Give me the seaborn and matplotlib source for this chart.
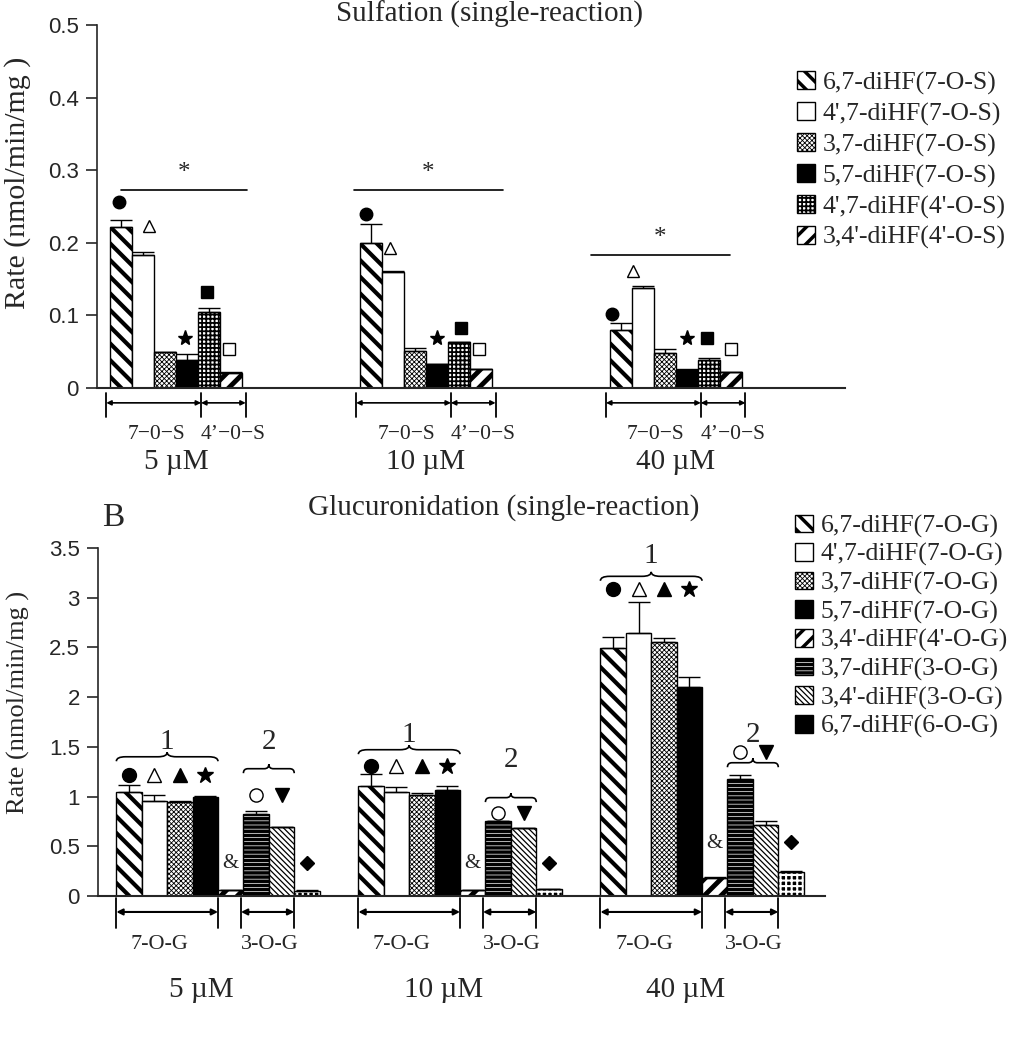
import numpy as np
import pandas as pd
import matplotlib
matplotlib.use('Agg')
import matplotlib.pyplot as plt
import matplotlib.transforms as mtransforms
import seaborn as sns
from matplotlib.patches import Patch, Rectangle, PathPatch
from matplotlib.path import Path

# ---------------- data ----------------
conc = ['5 µM', '10 µM', '40 µM']

sul_names = ['6,7-diHF(7-O-S)', "4',7-diHF(7-O-S)", '3,7-diHF(7-O-S)',
             '5,7-diHF(7-O-S)', "4',7-diHF(4'-O-S)", "3,4'-diHF(4'-O-S)"]
# rows = compound, cols = 5, 10, 40 uM
sul_rate = [[0.222, 0.200, 0.080],
            [0.183, 0.160, 0.138],
            [0.049, 0.051, 0.048],
            [0.039, 0.033, 0.025],
            [0.104, 0.064, 0.038],
            [0.021, 0.026, 0.022]]
sul_err = [[0.010, 0.026, 0.009],
           [0.004, 0.001, 0.002],
           [0.001, 0.004, 0.005],
           [0.008, 0.000, 0.001],
           [0.006, 0.000, 0.003],
           [0.001, 0.000, 0.000]]

glu_names = ['6,7-diHF(7-O-G)', "4',7-diHF(7-O-G)", '3,7-diHF(7-O-G)',
             '5,7-diHF(7-O-G)', "3,4'-diHF(4'-O-G)", '3,7-diHF(3-O-G)',
             "3,4'-diHF(3-O-G)", '6,7-diHF(6-O-G)']
glu_rate = [[1.05, 1.11, 2.49],
            [0.96, 1.05, 2.64],
            [0.95, 1.02, 2.55],
            [1.00, 1.07, 2.10],
            [0.06, 0.06, 0.18],
            [0.82, 0.75, 1.18],
            [0.69, 0.68, 0.71],
            [0.05, 0.07, 0.24]]
glu_err = [[0.07, 0.12, 0.11],
           [0.06, 0.05, 0.32],
           [0.01, 0.02, 0.04],
           [0.01, 0.04, 0.10],
           [0.00, 0.00, 0.01],
           [0.03, 0.00, 0.04],
           [0.00, 0.00, 0.04],
           [0.01, 0.00, 0.01]]

# significance symbols (sulfation): which bar, symbol, height per concentration
sul_mark_bar = [0, 1, 3, 4, 5]
sul_mark_sym = ['o', '^', '*', 's', 's']
sul_mark_fill = ['black', 'white', 'black', 'black', 'white']
sul_mark_y = [[0.256, 0.223, 0.069, 0.132, 0.053],
              [0.239, 0.193, 0.069, 0.083, 0.053],
              [0.102, 0.161, 0.069, 0.069, 0.053]]
sul_mark_dx = [[-0.1, 0.27, -0.1, -0.1, -0.1],
               [-0.23, -0.14, 0.0, 0.1, -0.1],
               [-0.4, -0.45, 0.0, -0.1, 0.0]]
sul_sig_y = [0.273, 0.273, 0.183]
sul_sig_span = [(-0.22, 0.284), (-0.288, 0.308), (-0.34, 0.216)]

# glucuronidation annotations
glu_row1_y = [1.215, 1.305, 3.092]    # filled circle, open tri, tri, star
glu_row2_y = [1.014, 0.833, 1.446]    # open circle, down tri
glu_amp_y = [0.33, 0.33, 0.532]
glu_dia_y = [0.33, 0.33, 0.54]
glu_brace1_y = [1.355, 1.426, 3.17]
glu_brace2_y = [1.235, 0.944, 1.295]
glu_lab1_y = [1.546, 1.616, 3.42]
glu_lab2_y = [1.546, 1.365, 1.616]

# ---------------- styles ----------------
sul_styles = [dict(fc='white', hatch='\\\\', hlw=3.0),
              dict(fc='white', hatch=None),
              dict(fc='white', hatch='xxxxxxx', hlw=0.6),
              dict(fc='black', hatch=None),
              dict(fc='white', hatch='++++', hlw=1.3),
              dict(fc='white', hatch='//', hlw=3.5)]
glu_styles = [dict(fc='white', hatch='\\\\', hlw=3.0),
              dict(fc='white', hatch=None),
              dict(fc='white', hatch='xxxxxxx', hlw=0.6),
              dict(fc='black', hatch=None),
              dict(fc='white', hatch='//', hlw=3.5),
              dict(fc='white', hatch='----', hlw=2.5),
              dict(fc='white', hatch='\\\\\\\\\\\\', hlw=0.9),
              dict(fc='black', hatch='+++', hlw=1.5, hc='white')]

serif = 'Liberation Serif'
sans = 'Liberation Sans'

sns.set_style('ticks')
plt.rcParams['font.family'] = [serif, 'DejaVu Serif']
plt.rcParams['hatch.color'] = 'black'


def style_bar(p, st, ax=None):
    p.set_facecolor(st['fc'])
    p.set_edgecolor('black')
    p.set_linewidth(1.0)
    if st.get('hatch'):
        p.set_hatch(st['hatch'])
        if hasattr(p, 'set_hatch_linewidth'):
            p.set_hatch_linewidth(st['hlw'])
        if st.get('hc') == 'white':
            p.set_edgecolor('white')
            if ax is not None:
                ax.add_patch(Rectangle(p.get_xy(), p.get_width(), p.get_height(),
                                       fill=False, edgecolor='black', lw=1.0, zorder=p.get_zorder() + 0.1))


def brace(ax, x0, x1, y, h):
    xm = (x0 + x1) / 2
    q = (x1 - x0) * 0.09
    verts = [(x0, y), (x0, y + h / 2), (x0 + q, y + h / 2),
             (xm - q, y + h / 2), (xm, y + h / 2), (xm, y + h),
             (xm, y + h / 2), (xm + q, y + h / 2),
             (x1 - q, y + h / 2), (x1, y + h / 2), (x1, y)]
    codes = [Path.MOVETO, Path.CURVE3, Path.CURVE3,
             Path.LINETO, Path.CURVE3, Path.CURVE3,
             Path.CURVE3, Path.CURVE3,
             Path.LINETO, Path.CURVE3, Path.CURVE3]
    ax.add_patch(PathPatch(Path(verts, codes), fill=False, lw=1.2, color='black', clip_on=False))


def long_df(names, rates, errs):
    rows = []
    for i, n in enumerate(names):
        for j, c in enumerate(conc):
            rows.append(dict(compound=n, conc=c, rate=rates[i][j], err=errs[i][j]))
    return pd.DataFrame(rows)


def bar_panel(ax, names, rates, errs, styles, width, ymax, ylab_size):
    df = long_df(names, rates, errs)
    sns.barplot(data=df, x='conc', y='rate', hue='compound', order=conc,
                hue_order=names, width=width, errorbar=None, legend=False,
                ax=ax, saturation=1)
    bar_conts = list(ax.containers)
    centers = []
    for i, cont in enumerate(bar_conts):
        cx = []
        for p in cont.patches:
            style_bar(p, styles[i], ax)
            cx.append(p.get_x() + p.get_width() / 2)
        centers.append(cx)
        ax.errorbar(cx, rates[i], yerr=[np.zeros(3), errs[i]], fmt='none',
                    ecolor='black', elinewidth=1.0, capsize=8, capthick=1.0, zorder=1)
    ax.set_ylim(0, ymax)
    sns.despine(ax=ax)
    ax.spines['left'].set_linewidth(1.2)
    ax.spines['bottom'].set_linewidth(1.5)
    ax.tick_params(axis='x', length=0, labelbottom=False)
    ax.tick_params(axis='y', direction='out', length=8, width=1.2, labelsize=16, pad=5)
    ax.set_xlabel('')
    ax.set_ylabel('Rate (nmol/min/mg )', fontsize=ylab_size)
    return centers


def legend_handles(names, styles):
    hs = []
    for n, st in zip(names, styles):
        p = Patch(label=n)
        style_bar(p, st)
        if st.get('hc') == 'white':
            p.set_edgecolor('black')
            p.set_hatch(None)
        hs.append(p)
    return hs


fig = plt.figure(figsize=(10.13, 10.5), dpi=100)
ax1 = fig.add_axes([0.0958, 0.6305, 0.738, 0.3457])
ax2 = fig.add_axes([0.0967, 0.1467, 0.7177, 0.3314])

# ---------------- sulfation ----------------
w1 = 0.53
c1 = bar_panel(ax1, sul_names, sul_rate, sul_err, sul_styles, w1, 0.5, 21.5)
ax1.set_xlim(-0.316, 2.676)
ax1.set_yticks(np.arange(0, 0.51, 0.1))
ax1.set_yticklabels(['0', '0.1', '0.2', '0.3', '0.4', '0.5'], fontfamily=sans)
fig.text(0.483, 0.979, 'Sulfation (single-reaction)', ha='center', va='baseline', fontsize=21)
b1 = w1 / len(sul_names)
tr1 = mtransforms.blended_transform_factory(ax1.transData, ax1.transAxes)
for g in range(3):
    L = g - w1 / 2
    for k, bi in enumerate(sul_mark_bar):
        mx = c1[bi][g] + sul_mark_dx[g][k] * b1
        ax1.plot(mx, sul_mark_y[g][k],
                 marker=sul_mark_sym[k], ms=11 if sul_mark_sym[k] == '*' else 9,
                 mfc=sul_mark_fill[k], mec='black', mew=1.0, clip_on=False)
    x0, x1 = g + sul_sig_span[g][0], g + sul_sig_span[g][1]
    ax1.plot([x0, x1], [sul_sig_y[g]] * 2, color='black', lw=1.2)
    ax1.text((x0 + x1) / 2, sul_sig_y[g] + 0.008, '*', ha='center', va='bottom', fontsize=18)
    vx = [L - 0.014, L + 4 * b1 + 0.012, L + 6 * b1 + 0.014]
    for v in vx:
        ax1.plot([v, v], [-0.014, -0.080], color='black', lw=1.3, transform=tr1, clip_on=False)
    for a, b in [(vx[0], vx[1]), (vx[1], vx[2])]:
        ax1.annotate('', xy=(b, -0.041), xytext=(a, -0.041), xycoords=tr1, textcoords=tr1,
                     arrowprops=dict(arrowstyle='<|-|>', mutation_scale=7, lw=1.2,
                                     color='black', shrinkA=0, shrinkB=0))
    ax1.text((vx[0] + vx[1]) / 2 + 0.01, -0.128, '7−0−S', transform=tr1, ha='center', va='center', fontsize=15.5)
    ax1.text((vx[1] + vx[2]) / 2 + 0.04, -0.128, '4’−0−S', transform=tr1, ha='center', va='center', fontsize=15.5)
    ax1.text(g, -0.203, conc[g], transform=tr1, ha='center', va='center', fontsize=21)

leg1 = ax1.legend(handles=legend_handles(sul_names, sul_styles), loc='upper left',
                  bbox_to_anchor=(0.787, 0.932), bbox_transform=fig.transFigure,
                  frameon=False, fontsize=18.5, handlelength=0.68, handleheight=0.68,
                  handletextpad=0.3, labelspacing=0.30, borderaxespad=0, borderpad=0)

# ---------------- glucuronidation ----------------
w2 = 0.84
c2 = bar_panel(ax2, glu_names, glu_rate, glu_err, glu_styles, w2, 3.5, 19)
ax2.set_xlim(-0.496, 2.508)
ax2.set_yticks(np.arange(0, 3.51, 0.5))
ax2.set_yticklabels(['0', '0.5', '1', '1.5', '2', '2.5', '3', '3.5'], fontfamily=sans)
fig.text(0.497, 0.517, 'Glucuronidation (single-reaction)', ha='center', va='center', fontsize=21)
fig.text(0.112, 0.507, 'B', ha='center', va='center', fontsize=24)
b2 = w2 / len(glu_names)
tr2 = mtransforms.blended_transform_factory(ax2.transData, ax2.transAxes)
row1 = [('o', 'black'), ('^', 'white'), ('^', 'black'), ('*', 'black')]
for g in range(3):
    L = g - w2 / 2
    for k, (m, fc) in enumerate(row1):
        ax2.plot(c2[k][g], glu_row1_y[g], marker=m, ms=12 if m == '*' else 10,
                 mfc=fc, mec='black', mew=1.0, clip_on=False)
    ax2.plot(c2[5][g], glu_row2_y[g], marker='o', ms=9.5, mfc='white', mec='black', mew=1.0)
    ax2.plot(c2[6][g], glu_row2_y[g], marker='v', ms=10, mfc='black', mec='black')
    ax2.text(c2[4][g], glu_amp_y[g], '&', ha='center', va='center', fontsize=15)
    ax2.plot(c2[7][g], glu_dia_y[g], marker='D', ms=7.5, mfc='black', mec='black')
    brace(ax2, L, L + 4 * b2, glu_brace1_y[g], 0.09)
    brace(ax2, L + 5 * b2, L + 7 * b2, glu_brace2_y[g], 0.09)
    ax2.text(L + 2 * b2, glu_lab1_y[g], '1', ha='center', va='center', fontsize=21)
    ax2.text(L + 6 * b2, glu_lab2_y[g], '2', ha='center', va='center', fontsize=21)
    vx = [L, L + 4 * b2, L + 5 * b2 - 0.01, L + 7 * b2]
    for v in vx:
        ax2.plot([v, v], [-0.006, -0.092], color='black', lw=1.3, transform=tr2, clip_on=False)
    for a, b in [(vx[0], vx[1]), (vx[2], vx[3])]:
        ax2.annotate('', xy=(b, -0.046), xytext=(a, -0.046), xycoords=tr2, textcoords=tr2,
                     arrowprops=dict(arrowstyle='<|-|>', mutation_scale=9, lw=1.5,
                                     color='black', shrinkA=0, shrinkB=0))
    ax2.text((vx[0] + vx[1]) / 2 - 0.03, -0.14, '7-O-G', transform=tr2, ha='center', va='center', fontsize=16)
    ax2.text((vx[2] + vx[3]) / 2 + 0.01, -0.14, '3-O-G', transform=tr2, ha='center', va='center', fontsize=16)
    ax2.text(g - 0.07, -0.27, conc[g], transform=tr2, ha='center', va='center', fontsize=21)

leg2 = ax2.legend(handles=legend_handles(glu_names, glu_styles), loc='upper left',
                  bbox_to_anchor=(0.785, 0.510), bbox_transform=fig.transFigure,
                  frameon=False, fontsize=18.5, handlelength=0.68, handleheight=0.68,
                  handletextpad=0.3, labelspacing=0.21, borderaxespad=0, borderpad=0)

for leg, styles in [(leg1, sul_styles), (leg2, glu_styles)]:
    for p, st in zip(leg.get_patches(), styles):
        if st.get('hatch') and hasattr(p, 'set_hatch_linewidth'):
            p.set_hatch_linewidth(min(st['hlw'], 2.5))

ax1.yaxis.set_label_coords(-0.089, 0.565)
ax2.yaxis.set_label_coords(-0.093, 0.557)

fig.savefig('out.png', dpi=100)
